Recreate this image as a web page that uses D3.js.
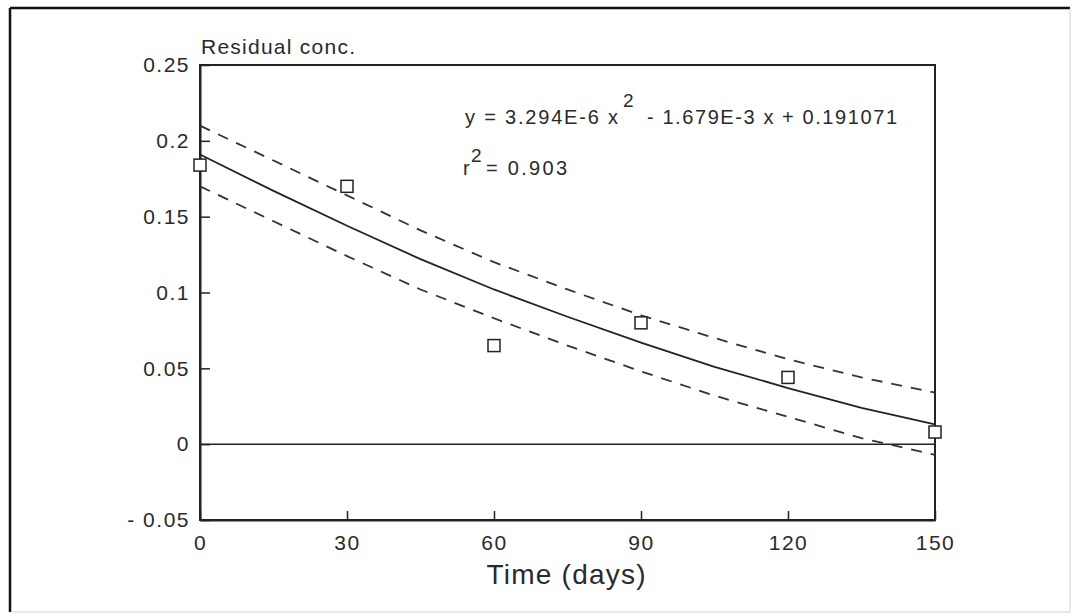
<!DOCTYPE html>
<html>
<head>
<meta charset="utf-8">
<script src="https://cdn.jsdelivr.net/npm/d3@7"></script>
<style>
  body { margin: 0; background: #fff; }
  svg text { font-family: "Liberation Sans", Arial, sans-serif; fill: #2a2a2a; }
</style>
</head>
<body>
<div id="chart"></div>
<script>
var width = 1074, height = 616;

// observed residual concentrations
var days = [0, 30, 60, 90, 120, 150];
var conc = [0.184, 0.170, 0.065, 0.080, 0.044, 0.008];

// fitted curve and confidence band
var curveX = [0, 15, 30, 45, 60, 75, 90, 105, 120, 135, 150];
var curveY = [0.191, 0.167, 0.144, 0.122, 0.102, 0.084, 0.067, 0.051, 0.037, 0.024, 0.013];
var upperY = [0.210, 0.187, 0.164, 0.141, 0.120, 0.102, 0.085, 0.070, 0.056, 0.044, 0.034];
var lowerY = [0.170, 0.147, 0.124, 0.102, 0.083, 0.065, 0.048, 0.032, 0.018, 0.004, -0.007];

var xTicks = [0, 30, 60, 90, 120, 150];
var yTicks = [-0.05, 0, 0.05, 0.1, 0.15, 0.2, 0.25];
var yTickLabels = ["- 0.05", "0", "0.05", "0.1", "0.15", "0.2", "0.25"];

var svg = d3.select("#chart")
  .append("svg")
    .attr("width", width)
    .attr("height", height);

// scanned frame
svg.append("line").attr("x1", 10).attr("y1", 8).attr("x2", 1070).attr("y2", 8)
  .attr("stroke", "#111").attr("stroke-width", 2.5);
svg.append("line").attr("x1", 10).attr("y1", 8).attr("x2", 10).attr("y2", 612)
  .attr("stroke", "#111").attr("stroke-width", 2.5);
svg.append("line").attr("x1", 1070).attr("y1", 9).attr("x2", 1070).attr("y2", 612)
  .attr("stroke", "#e2e2e2").attr("stroke-width", 1.5);
svg.append("line").attr("x1", 11).attr("y1", 612).attr("x2", 1070).attr("y2", 612)
  .attr("stroke", "#e2e2e2").attr("stroke-width", 1.5);

var x = d3.scaleLinear().domain([0, 150]).range([200, 935]);
var y = d3.scaleLinear().domain([-0.05, 0.25]).range([520, 65]);

// plot box
svg.append("rect")
  .attr("x", x(0)).attr("y", y(0.25))
  .attr("width", x(150) - x(0)).attr("height", y(-0.05) - y(0.25))
  .attr("fill", "none").attr("stroke", "#222").attr("stroke-width", 2);

var yAxis = svg.append("g")
  .attr("transform", "translate(" + x(0) + ",0)")
  .call(d3.axisLeft(y)
    .tickValues(yTicks)
    .tickSizeInner(-10).tickSizeOuter(0).tickPadding(10)
    .tickFormat(function (d, i) { return yTickLabels[i]; }));
yAxis.selectAll("text").style("font-size", "21px").attr("letter-spacing", "1.5px");

var xAxis = svg.append("g")
  .attr("transform", "translate(0," + y(-0.05) + ")")
  .call(d3.axisBottom(x)
    .tickValues(xTicks)
    .tickSizeInner(-9).tickSizeOuter(0).tickPadding(15)
    .tickFormat(d3.format("d")));
xAxis.selectAll("text").style("font-size", "21px").attr("letter-spacing", "1.5px");

svg.selectAll(".domain").attr("stroke", "#222").attr("stroke-width", 2);
svg.selectAll(".tick line").attr("stroke", "#222").attr("stroke-width", 1.5);

// zero line
svg.append("line")
  .attr("x1", x(0)).attr("x2", x(150))
  .attr("y1", y(0)).attr("y2", y(0))
  .attr("stroke", "#222").attr("stroke-width", 1.5);

var line = d3.line()
  .x(function (d) { return x(d[0]); })
  .y(function (d) { return y(d[1]); });

svg.append("path")
  .attr("d", line(d3.zip(curveX, curveY)))
  .attr("fill", "none").attr("stroke", "#222").attr("stroke-width", 1.8);

[upperY, lowerY].forEach(function (band) {
  svg.append("path")
    .attr("d", line(d3.zip(curveX, band)))
    .attr("fill", "none").attr("stroke", "#333").attr("stroke-width", 1.8)
    .attr("stroke-dasharray", "11,9");
});

svg.append("g")
  .selectAll("rect")
  .data(d3.zip(days, conc))
  .enter()
  .append("rect")
    .attr("x", function (d) { return x(d[0]) - 6; })
    .attr("y", function (d) { return y(d[1]) - 6; })
    .attr("width", 12).attr("height", 12)
    .attr("fill", "#fff").attr("stroke", "#222").attr("stroke-width", 1.5);

// labels
svg.append("text")
  .attr("x", 201).attr("y", 54)
  .style("font-size", "21px")
  .attr("textLength", 154).attr("lengthAdjust", "spacing")
  .text("Residual conc.");

svg.append("text")
  .attr("x", 566).attr("y", 584)
  .attr("text-anchor", "middle")
  .style("font-size", "28px")
  .attr("textLength", 159).attr("lengthAdjust", "spacing")
  .text("Time (days)");

svg.append("text")
  .attr("x", 465).attr("y", 124).style("font-size", "20px")
  .attr("textLength", 153).attr("lengthAdjust", "spacing")
  .text("y = 3.294E-6  x");
svg.append("text")
  .attr("x", 623).attr("y", 107).style("font-size", "19px")
  .text("2");
svg.append("text")
  .attr("x", 647).attr("y", 124).style("font-size", "20px")
  .attr("textLength", 250).attr("lengthAdjust", "spacing")
  .text("- 1.679E-3  x  + 0.191071");

svg.append("text")
  .attr("x", 463).attr("y", 175).style("font-size", "20px")
  .text("r");
svg.append("text")
  .attr("x", 471).attr("y", 162).style("font-size", "19px")
  .text("2");
svg.append("text")
  .attr("x", 486).attr("y", 175).style("font-size", "20px")
  .attr("textLength", 81).attr("lengthAdjust", "spacing")
  .text("= 0.903");
</script>
</body>
</html>
